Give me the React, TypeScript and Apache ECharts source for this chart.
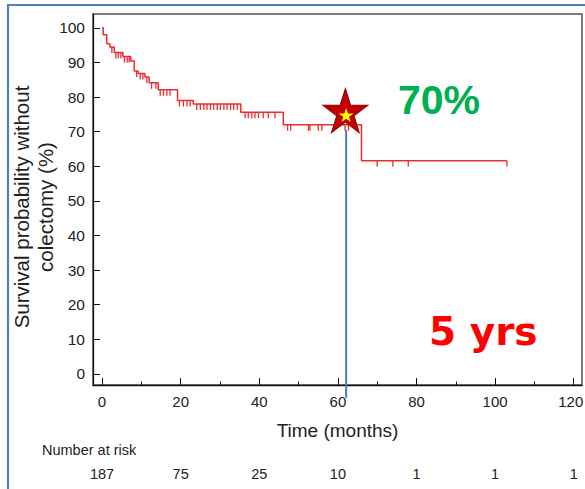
import React, { useEffect, useRef } from "react";
import * as echarts from "echarts";

// Kaplan–Meier curve: [months, survival %] at each step
const kmSteps: [number, number][] = [
  [0, 100], [0.3, 98.0], [1.2, 95.4], [2.0, 94.5], [3.1, 92.9], [5.3, 91.7],
  [7.3, 90.4], [8.2, 87.5], [9.2, 86.8], [10.9, 85.8], [12.0, 84.1], [14.3, 82.1],
  [19.2, 79.0], [23.2, 78.0], [35.3, 75.6], [46.1, 72.0], [66.0, 61.6], [103.0, 61.6],
];
// censoring times (months)
const censorTimes: number[] = [
  2.5, 3.5, 4.1, 4.8, 5.7, 6.4, 6.9, 8.8, 9.7, 10.4, 11.4, 12.6, 13.7,
  14.8, 15.6, 16.5, 17.3, 19.7, 20.7, 21.6, 22.4,
  24.1, 25.0, 25.9, 26.7, 27.6, 28.4, 29.3, 30.1, 31.0, 31.8, 32.7, 33.5, 34.4,
  36.4, 37.2, 38.1, 38.9, 39.8, 41.0, 42.3, 44.0,
  47.2, 48.0, 52.5, 52.9, 55.0, 55.9, 61.8, 62.7,
  70.0, 74.0, 77.9, 103.0,
];
const xMajorTicks = [0, 20, 40, 60, 80, 100, 120];
const xMinorTicks = [10, 30, 50, 70, 90, 110];
const yTicks = [0, 10, 20, 30, 40, 50, 60, 70, 80, 90, 100];
const riskNumbers = ["187", "75", "25", "10", "1", "1", "1"];
const starRed: [number, number] = [61.9, 76.1];
const starYellow: [number, number] = [62.1, 74.8];
const markerLine: [number, number][] = [[62.1, 70.5], [62.1, -6.9]];
const annotPct = "70%";
const annotYrs = "5 yrs";
const yTitle = "Survival probability without\ncolectomy (%)";

const SANS = "'Liberation Sans', Arial, Helvetica, sans-serif";
const STAR = "path://M50,0 L61.2,34.5 L97.6,34.5 L68.2,55.9 L79.4,90.5 L50,69.1 L20.6,90.5 L31.8,55.9 L2.4,34.5 L38.8,34.5 Z";

function kmAt(t: number): number {
  let v = kmSteps[0][1];
  for (const [x, y] of kmSteps) {
    if (x <= t) v = y;
  }
  return v;
}

export default function App() {
  const ref = useRef<HTMLDivElement>(null);
  useEffect(() => {
    if (!ref.current) return;
    const chart = echarts.init(ref.current, null, { renderer: "svg" });
    const XMIN = -2.3, XMAX = 122.1;
    const lastTick = xMajorTicks[xMajorTicks.length - 1];
    chart.setOption({
      animation: false,
      backgroundColor: "#fff",
      grid: {
        left: 93, top: 14, width: 489, height: 371, containLabel: false, outerBoundsMode: "none",
        show: true, borderColor: "#555", borderWidth: 1.5, backgroundColor: "transparent",
      },
      xAxis: [
        {
          type: "value", min: XMIN, max: XMAX, position: "bottom",
          splitLine: { show: false },
          axisLine: { show: true, onZero: false, lineStyle: { color: "#111", width: 1.3 } },
          axisTick: { show: true, inside: true, length: 7, customValues: xMajorTicks, lineStyle: { color: "#111" } },
          axisLabel: {
            customValues: xMajorTicks, margin: 9, fontSize: 15, fontFamily: SANS, color: "#222",
            formatter: (v: number) => (Math.round(v) === lastTick ? `{e|${Math.round(v)}}` : `${Math.round(v)}`),
            rich: { e: { fontSize: 15, fontFamily: SANS, color: "#222", padding: [0, 6, 0, 0] } },
          },
          name: "Time (months)", nameLocation: "middle", nameGap: 36,
          nameTextStyle: { fontSize: 19, fontFamily: SANS, color: "#222" },
        },
        {
          type: "value", min: XMIN, max: XMAX, position: "bottom",
          splitLine: { show: false },
          axisLine: { show: false, onZero: false },
          axisTick: { show: true, inside: true, length: 3.5, customValues: xMinorTicks, lineStyle: { color: "#111" } },
          axisLabel: { show: false },
        },
        {
          type: "value", min: XMIN, max: XMAX, position: "bottom", offset: 79,
          splitLine: { show: false },
          axisLine: { show: false, onZero: false },
          axisTick: { show: false },
          axisLabel: {
            customValues: xMajorTicks, margin: 2, fontSize: 14.5, fontFamily: SANS, color: "#222",
            formatter: (v: number) => riskNumbers[xMajorTicks.indexOf(Math.round(v))] ?? "",
          },
        },
      ],
      yAxis: {
        type: "value", min: -3.2, max: 104,
        splitLine: { show: false },
        axisLine: { show: true, onZero: false, lineStyle: { color: "#111", width: 1.3 } },
        axisTick: { show: true, inside: true, length: 7, customValues: yTicks, lineStyle: { color: "#111" } },
        axisLabel: { customValues: yTicks, margin: 8, fontSize: 15.5, fontFamily: SANS, color: "#222" },
      },
      series: [
        {
          type: "line", step: "end", data: kmSteps, symbol: "none",
          lineStyle: { color: "#ee2c2c", width: 1.5 }, z: 3,
        },
        {
          type: "scatter", data: censorTimes.map((t) => [t, kmAt(t)]),
          symbol: "rect", symbolSize: [1.3, 6], symbolOffset: [0, 3],
          itemStyle: { color: "#ee2c2c", opacity: 1 }, z: 3,
        },
        {
          type: "line", data: markerLine, symbol: "none", clip: false,
          lineStyle: { color: "#4a7ebb", width: 2 }, z: 4,
        },
        {
          type: "scatter", data: [starRed], symbol: STAR, symbolSize: [45, 44], symbolKeepAspect: false,
          itemStyle: { color: "#c00000", borderColor: "#8a0000", borderWidth: 1, opacity: 1 }, z: 5,
        },
        {
          type: "scatter", data: [starYellow], symbol: STAR, symbolSize: [15, 14],
          itemStyle: { color: "#ffff00", opacity: 1 }, z: 6,
        },
      ],
      graphic: [
        {
          type: "rect", shape: { x: 8, y: 5, width: 620, height: 520 },
          style: { fill: "none", stroke: "#4f81bd", lineWidth: 2.2 }, silent: true,
        },
        {
          type: "text", x: 33, y: 207, rotation: Math.PI / 2,
          style: {
            text: yTitle, fontSize: 20.5, lineHeight: 24, fontFamily: SANS, fill: "#222",
            textAlign: "center", textVerticalAlign: "middle",
          },
        },
        {
          type: "text", left: 42, top: 442,
          style: { text: "Number at risk", fontSize: 14.5, fontFamily: SANS, fill: "#222" },
        },
        {
          type: "text", x: 398, y: 100,
          style: { text: annotPct, fontSize: 41, fontWeight: "bold", fontFamily: SANS, fill: "#00b050", textVerticalAlign: "middle" },
        },
        {
          type: "text", x: 429, y: 331,
          style: { text: annotYrs, fontSize: 39, fontWeight: "bold", fontFamily: "'DejaVu Sans', sans-serif", fill: "#ff0000", textVerticalAlign: "middle" },
        },
      ],
    });
    return () => chart.dispose();
  }, []);
  return <div ref={ref} style={{ position: "absolute", left: 0, top: 0, width: 585, height: 489 }} />;
}
